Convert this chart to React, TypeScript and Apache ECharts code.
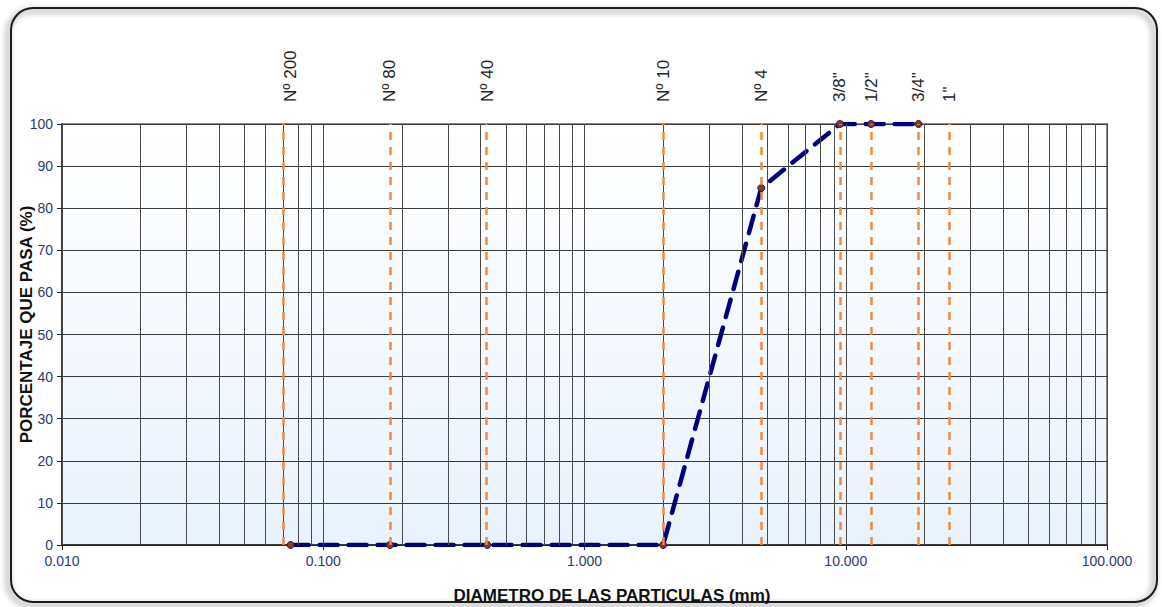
import React, { useEffect, useRef } from "react";
import * as echarts from "echarts";

// Sieve openings (mm) and their names
const sieveSizes = [0.075, 0.18, 0.425, 2.0, 4.75, 9.5, 12.5, 19.0, 25.0];
const sieveNames = ["Nº 200", "Nº 80", "Nº 40", "Nº 10", "Nº 4", '3/8"', '1/2"', '3/4"', '1"'];

// Grading curve: particle diameter (mm) vs. percent passing
const gradDiameters = [0.075, 0.18, 0.425, 2.0, 4.75, 9.5, 12.5, 19.0];
const gradPassing = [0, 0, 0, 0, 84.8, 100, 100, 100];

// Log grid: decades and in-between multipliers
const decades = [0.01, 0.1, 1, 10];
const multipliers = [1, 2, 3, 4, 5, 6, 7, 8, 9];

const FONT = "'Liberation Sans', Arial, sans-serif";

export default function App() {
  const ref = useRef<HTMLDivElement>(null);

  useEffect(() => {
    document.body.style.margin = "0";
    const chart = echarts.init(ref.current!, undefined, { renderer: "svg" });

    const gridLines: { xAxis: number }[] = [];
    decades.forEach((d) => multipliers.forEach((m) => gridLines.push({ xAxis: d * m })));
    gridLines.push({ xAxis: 100 });

    const plotBg = new echarts.graphic.LinearGradient(0, 0, 0, 1, [
      { offset: 0, color: "#ffffff" },
      { offset: 1, color: "#e9f2fc" },
    ]);

    chart.setOption({
      animation: false,
      textStyle: { fontFamily: FONT },
      grid: {
        left: 62,
        right: 55,
        top: 124,
        bottom: 62,
        outerBoundsMode: "none",
        containLabel: false,
        show: true,
        backgroundColor: plotBg,
        borderColor: "#8a8a8a",
        borderWidth: 2,
      },
      xAxis: {
        type: "log",
        logBase: 10,
        min: 0.01,
        max: 100,
        name: "DIAMETRO DE LAS PARTICULAS (mm)",
        nameLocation: "middle",
        nameGap: 42,
        nameMoveOverlap: false,
        nameTextStyle: {
          fontSize: 17,
          fontWeight: "bold",
          color: "#111",
          fontFamily: FONT,
          padding: [0, 0, 0, 55],
        },
        axisLine: { show: true, lineStyle: { color: "#222", width: 1.5 } },
        axisTick: { show: true, length: 5, inside: false, lineStyle: { color: "#222" } },
        axisLabel: {
          fontSize: 14,
          color: "#2f3a66",
          margin: 9,
          fontFamily: FONT,
          formatter: (v: number) => v.toFixed(3),
        },
        splitLine: { show: false },
      },
      yAxis: {
        type: "value",
        min: 0,
        max: 100,
        interval: 10,
        name: "PORCENTAJE QUE PASA (%)",
        nameLocation: "middle",
        nameGap: 27,
        nameMoveOverlap: false,
        nameTextStyle: {
          fontSize: 17,
          fontWeight: "bold",
          color: "#111",
          fontFamily: FONT,
          padding: [0, 0, 0, 20],
        },
        axisLine: { show: true, lineStyle: { color: "#222", width: 1.5 } },
        axisTick: { show: true, length: 5, lineStyle: { color: "#222" } },
        axisLabel: { fontSize: 14, color: "#2f3a66", margin: 9, fontFamily: FONT },
        splitLine: { show: true, lineStyle: { color: "#3a3a3a", width: 1 } },
      },
      series: [
        {
          // vertical log grid
          type: "line",
          data: [],
          silent: true,
          z: 1,
          markLine: {
            silent: true,
            symbol: ["none", "none"],
            label: { show: false },
            animation: false,
            lineStyle: { color: "#4a4a4a", width: 1, type: "solid" },
            data: gridLines,
          },
        },
        {
          // sieve openings
          type: "line",
          data: [],
          silent: true,
          z: 2,
          markLine: {
            silent: true,
            symbol: ["none", "none"],
            label: { show: false },
            animation: false,
            lineStyle: { color: "#f08a3c", width: 2.5, type: [8, 7] },
            data: sieveSizes.map((s) => ({ xAxis: s })),
          },
        },
        {
          type: "line",
          z: 3,
          data: gradDiameters.map((d, i) => [d, gradPassing[i]]),
          symbol: "circle",
          symbolSize: 7,
          itemStyle: { color: "#8b3a12", borderColor: "#1c1c70", borderWidth: 1 },
          lineStyle: { color: "#00007f", width: 4.5, type: [18, 11], cap: "round" },
        },
      ],
    });

    const labels = sieveSizes.map((s, i) => {
      const [x] = chart.convertToPixel({ gridIndex: 0 }, [s, 100]) as number[];
      return {
        type: "text",
        x,
        y: 102,
        rotation: Math.PI / 2,
        style: {
          text: sieveNames[i],
          fontSize: 17,
          fontFamily: FONT,
          fill: "#222",
          align: "left",
          verticalAlign: "middle",
        },
      };
    });

    chart.setOption({
      graphic: [
        {
          type: "rect",
          z: -10,
          shape: { x: 11, y: 8, width: 1146, height: 594, r: 22 },
          style: {
            fill: "rgba(255,255,255,0)",
            stroke: "#1a1a1a",
            lineWidth: 2,
            shadowBlur: 6,
            shadowOffsetX: -3,
            shadowOffsetY: 3,
            shadowColor: "rgba(0,0,0,0.6)",
          },
        },
        ...labels,
      ],
    });

    return () => chart.dispose();
  }, []);

  return <div ref={ref} style={{ width: 1162, height: 607 }} />;
}
